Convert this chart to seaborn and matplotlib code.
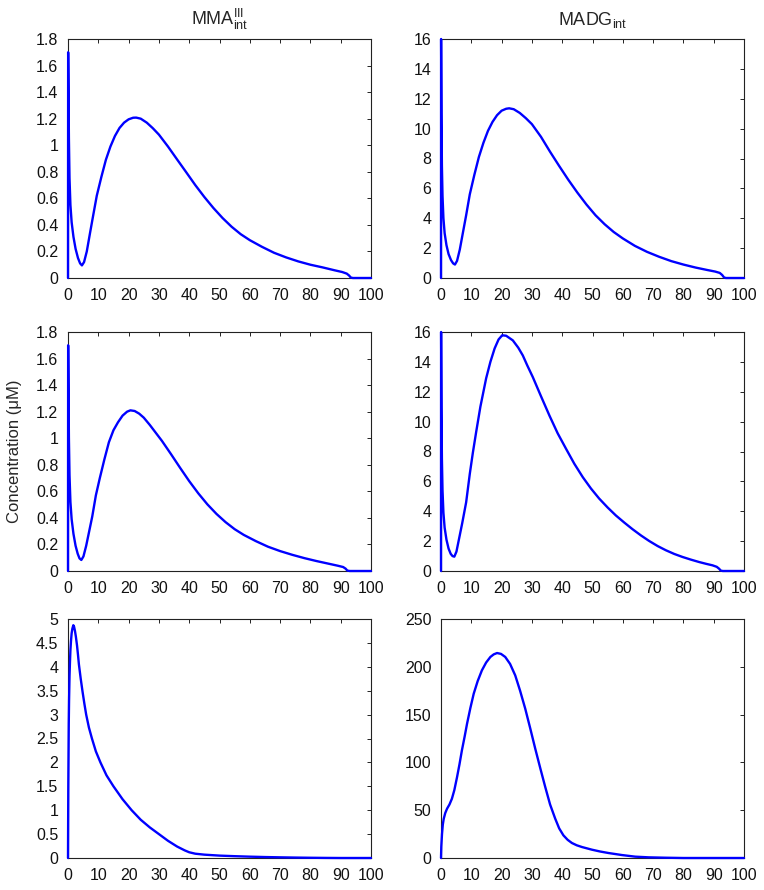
import matplotlib
matplotlib.use("Agg")
import matplotlib.pyplot as plt
import seaborn as sns
import pandas as pd

# ---------------- data ----------------
titles = [r"MMA$^{III}_{int}$", r"MADG$_{int}$"]
ylabel = "Concentration (\u03bcM)"

x_ticks = [0, 10, 20, 30, 40, 50, 60, 70, 80, 90, 100]
x_tick_labels = ["0", "10", "20", "30", "40", "50", "60", "70", "80", "90", "100"]

yt_mma = [0, 0.2, 0.4, 0.6, 0.8, 1.0, 1.2, 1.4, 1.6, 1.8]
yt_mma_lab = ["0", "0.2", "0.4", "0.6", "0.8", "1", "1.2", "1.4", "1.6", "1.8"]
yt_madg = [0, 2, 4, 6, 8, 10, 12, 14, 16]
yt_madg_lab = ["0", "2", "4", "6", "8", "10", "12", "14", "16"]
yt_bl = [0, 0.5, 1, 1.5, 2, 2.5, 3, 3.5, 4, 4.5, 5]
yt_bl_lab = ["0", "0.5", "1", "1.5", "2", "2.5", "3", "3.5", "4", "4.5", "5"]
yt_br = [0, 50, 100, 150, 200, 250]
yt_br_lab = ["0", "50", "100", "150", "200", "250"]

# top-left: MMA(III)int
tl_x = [0, 0.05, 0.15, 0.3, 0.5, 0.8, 1.2, 1.8, 2.5, 3.3, 4.0, 4.6, 5.3, 6.2, 7.2, 8.3,
        9.5, 11.0, 12.5, 14.0, 15.5, 17.0, 18.5, 20.0, 21.5, 22.5, 24.0, 26.0, 28.0, 30.0,
        33.0, 36.0, 39.0, 42.0, 45.0, 48.0, 51.0, 54.0, 57.0, 60.0, 64.0, 68.0, 72.0, 76.0,
        80.0, 84.0, 88.0, 90.5, 92.0, 92.8, 93.3, 94.0, 100.0]
tl_y = [0, 1.70, 1.45, 1.05, 0.75, 0.55, 0.42, 0.31, 0.22, 0.15, 0.11, 0.095, 0.12, 0.20,
        0.33, 0.47, 0.62, 0.76, 0.89, 0.99, 1.07, 1.13, 1.17, 1.195, 1.207, 1.208, 1.20,
        1.17, 1.128, 1.08, 0.99, 0.893, 0.797, 0.70, 0.61, 0.527, 0.452, 0.386, 0.33, 0.285,
        0.235, 0.19, 0.155, 0.125, 0.10, 0.08, 0.058, 0.045, 0.033, 0.018, 0.004, 0, 0]

# top-right: MADGint
tr_x = [0, 0.03, 0.15, 0.3, 0.5, 0.8, 1.2, 1.8, 2.5, 3.3, 4.0, 4.6, 5.3, 6.2, 7.2, 8.3,
        9.5, 11.0, 12.5, 14.0, 15.5, 17.0, 18.5, 20.0, 21.5, 22.5, 24.0, 26.0, 28.0, 30.0,
        33.0, 36.0, 39.0, 42.0, 45.0, 48.0, 51.0, 54.0, 57.0, 60.0, 64.0, 68.0, 72.0, 76.0,
        80.0, 84.0, 88.0, 90.5, 92.0, 92.8, 93.4, 94.0, 100.0]
tr_y = [0, 16.0, 11.0, 7.5, 5.5, 4.0, 3.0, 2.2, 1.6, 1.2, 0.98, 0.9, 1.15, 1.9, 3.0, 4.2,
        5.6, 6.9, 8.1, 9.05, 9.85, 10.45, 10.9, 11.2, 11.33, 11.36, 11.3, 11.05, 10.7, 10.3,
        9.45, 8.45, 7.5, 6.58, 5.72, 4.92, 4.2, 3.6, 3.08, 2.65, 2.15, 1.75, 1.42, 1.13, 0.9,
        0.7, 0.53, 0.43, 0.34, 0.2, 0.04, 0, 0]

# middle-left: MMA(III)int
ml_x = [0, 0.05, 0.15, 0.3, 0.5, 0.8, 1.2, 1.8, 2.5, 3.2, 3.8, 4.4, 5.1, 6.0, 7.0, 8.0,
        9.2, 10.5, 12.0, 13.5, 15.0, 16.5, 18.0, 19.5, 20.6, 22.0, 23.5, 25.0, 27.0, 29.0,
        31.0, 34.0, 37.0, 40.0, 43.0, 46.0, 49.0, 52.0, 55.0, 58.0, 62.0, 66.0, 70.0, 74.0,
        78.0, 82.0, 86.0, 89.0, 90.8, 91.6, 92.2, 93.0, 100.0]
ml_y = [0, 1.70, 1.42, 1.0, 0.72, 0.52, 0.39, 0.28, 0.19, 0.13, 0.095, 0.083, 0.11, 0.19,
        0.30, 0.41, 0.57, 0.70, 0.84, 0.97, 1.06, 1.12, 1.17, 1.2, 1.21, 1.205, 1.185, 1.155,
        1.10, 1.04, 0.98, 0.88, 0.777, 0.677, 0.585, 0.502, 0.43, 0.368, 0.315, 0.272, 0.225,
        0.183, 0.15, 0.122, 0.097, 0.075, 0.055, 0.04, 0.03, 0.018, 0.003, 0, 0]

# middle-right: MADGint
mr_x = [0, 0.03, 0.15, 0.3, 0.5, 0.8, 1.2, 1.8, 2.5, 3.2, 3.8, 4.4, 5.1, 6.0, 7.0, 8.3,
        9.5, 10.5, 11.6, 13.0, 14.9, 16.3, 17.7, 19.0, 20.2, 21.5, 23.7, 25.5, 27.0, 28.5,
        30.3, 33.0, 35.8, 38.5, 41.3, 44.0, 46.8, 49.5, 52.2, 55.0, 57.7, 60.5, 63.2, 66.0,
        68.7, 71.5, 74.2, 77.0, 79.7, 82.5, 85.2, 87.5, 89.6, 91.0, 91.8, 92.3, 93.0, 100.0]
mr_y = [0, 16.0, 11.0, 7.5, 5.4, 3.9, 2.9, 2.1, 1.5, 1.15, 1.0, 0.96, 1.3, 2.2, 3.2, 4.6,
        6.5, 7.9, 9.3, 11.0, 12.9, 14.0, 14.9, 15.5, 15.78, 15.75, 15.44, 14.95, 14.43,
        13.75, 12.98, 11.7, 10.4, 9.22, 8.17, 7.18, 6.28, 5.52, 4.85, 4.25, 3.72, 3.24, 2.8,
        2.38, 2.01, 1.67, 1.39, 1.14, 0.94, 0.76, 0.6, 0.48, 0.38, 0.28, 0.15, 0.03, 0, 0]

# bottom-left
bl_x = [0, 0.05, 0.1, 0.18, 0.25, 0.35, 0.5, 0.65, 0.8, 1.0, 1.2, 1.45, 1.76, 2.0, 2.3,
        2.6, 2.97, 3.3, 3.6, 4.2, 4.8, 5.4, 6.0, 6.9, 7.9, 9.2, 10.7, 12.7, 15.0, 18.0,
        21.0, 24.0, 27.0, 30.0, 33.0, 36.0, 38.5, 40.0, 42.0, 45.0, 50.0, 55.0, 60.0, 65.0,
        70.0, 75.0, 80.0, 85.0, 90.0, 100.0]
bl_y = [0, 0.8, 1.5, 2.2, 2.8, 3.3, 3.8, 4.1, 4.35, 4.55, 4.7, 4.8, 4.87, 4.84, 4.75,
        4.63, 4.45, 4.25, 4.05, 3.75, 3.48, 3.23, 3.0, 2.73, 2.5, 2.23, 2.0, 1.73, 1.5, 1.23,
        1.0, 0.8, 0.64, 0.5, 0.36, 0.24, 0.16, 0.12, 0.09, 0.07, 0.05, 0.038, 0.028, 0.02,
        0.014, 0.009, 0.005, 0.002, 0, 0]

# bottom-right
br_x = [0, 0.1, 0.33, 0.6, 0.9, 1.4, 2.0, 2.8, 3.6, 4.4, 5.3, 6.1, 6.9, 7.8, 8.6, 9.7,
        10.8, 12.1, 13.5, 14.9, 16.3, 17.4, 18.5, 19.8, 21.2, 22.8, 24.5, 26.1, 27.8, 29.5,
        31.1, 32.8, 34.4, 36.0, 37.7, 39.0, 40.4, 41.8, 43.2, 44.8, 46.5, 49.8, 52.5, 55.3,
        59.7, 64.1, 68.5, 74.0, 80.0, 100.0]
br_y = [0, 12, 25, 35, 41, 47, 51.6, 56, 62, 71, 84.7, 98, 112.6, 127, 140.5, 157, 171.9,
        185, 196.3, 204.5, 210.3, 213, 214.4, 213.5, 210.3, 203, 191, 175, 156.2, 135, 114.4,
        93.5, 74.3, 56, 41.1, 31, 23.7, 19, 15.7, 13.3, 11.5, 8.7, 6.8, 5.2, 3.1, 1.4, 0.7,
        0.3, 0, 0]

# ---------------- style ----------------
sns.set_style("white")
plt.rcParams["font.family"] = ["Liberation Sans", "DejaVu Sans"]
plt.rcParams["mathtext.default"] = "regular"

fig = plt.figure(figsize=(7.64, 8.90), dpi=100)
W, H = 764.0, 890.0
lefts_px = [68, 441]
tops_px = [39, 332, 619]
w_px, h_px = 303, 239

panels = [
    (0, 0, tl_x, tl_y, 1.8, yt_mma, yt_mma_lab),
    (0, 1, tr_x, tr_y, 16, yt_madg, yt_madg_lab),
    (1, 0, ml_x, ml_y, 1.8, yt_mma, yt_mma_lab),
    (1, 1, mr_x, mr_y, 16, yt_madg, yt_madg_lab),
    (2, 0, bl_x, bl_y, 5, yt_bl, yt_bl_lab),
    (2, 1, br_x, br_y, 250, yt_br, yt_br_lab),
]

for r, c, xs, ys, ymax, yt, ytl in panels:
    ax = fig.add_axes([lefts_px[c] / W, 1 - (tops_px[r] + h_px) / H, w_px / W, h_px / H])
    df = pd.DataFrame({"t": xs, "conc": ys})
    sns.lineplot(data=df, x="t", y="conc", ax=ax, estimator=None, sort=False,
                 color="#0000ff", linewidth=1.7, clip_on=False, zorder=3)
    ax.set_xlim(0, 100)
    ax.set_ylim(0, ymax)
    ax.set_xticks(x_ticks)
    ax.set_xticklabels(x_tick_labels)
    ax.set_yticks(yt)
    ax.set_yticklabels(ytl)
    ax.set_xlabel("")
    ax.set_ylabel("")
    ax.tick_params(axis="both", which="both", direction="in", length=3, width=0.6,
                   top=True, right=True, pad=7, labelsize=11.5, colors="black",
                   labelcolor="#111111")
    for s in ax.spines.values():
        s.set_color("#222222")
        s.set_linewidth(0.8)
        s.set_visible(True)
    if r == 0:
        ax.set_title(titles[c], fontsize=13, pad=10)

fig.text(15 / W, 1 - 451 / H, ylabel, rotation=90, ha="center", va="center", fontsize=12)

fig.savefig("out.png", dpi=100, facecolor="white")
